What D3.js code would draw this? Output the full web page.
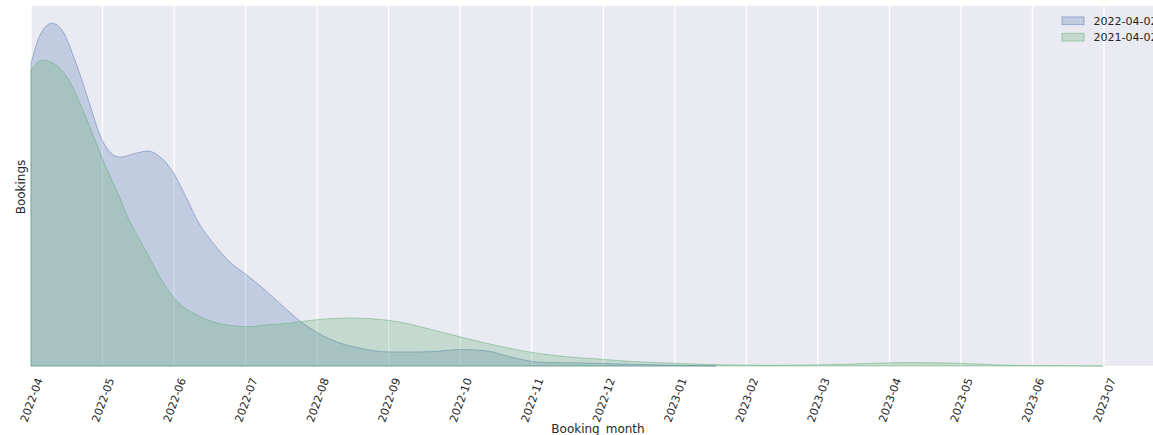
<!DOCTYPE html>
<html>
<head>
<meta charset="utf-8">
<script src="https://cdn.jsdelivr.net/npm/d3@7"></script>
<style>
  html, body { margin: 0; padding: 0; background: #ffffff; overflow: hidden; }
  svg { display: block; font-family: "DejaVu Sans", sans-serif; }
</style>
</head>
<body>
<svg id="chart" width="1153" height="435"></svg>
<script>
// ---- data ----
const monthLabels = ["2022-04","2022-05","2022-06","2022-07","2022-08","2022-09","2022-10","2022-11",
                     "2022-12","2023-01","2023-02","2023-03","2023-04","2023-05","2023-06","2023-07"];
const seriesNames = ["2022-04-02", "2021-04-02"];

// month offset since 2022-04 (x) and relative booking density (y)
const months2022 = [0, 0.126, 0.294, 0.433, 0.615, 0.825, 0.965, 1.104, 1.244, 1.454, 1.636, 1.803,
  1.985, 2.153, 2.363, 2.544, 2.782, 3.020, 3.271, 3.551, 3.761, 4.040, 4.320, 4.599, 5.019,
  5.438, 5.620, 5.997, 6.375, 6.696, 7.116, 7.675, 8.234, 8.793, 9.353, 9.576];
const bookings2022 = [88.3, 96.5, 100, 98.0, 89.2, 76.1, 67.3, 62.4, 60.9, 62.0, 62.7, 61.0,
  56.6, 49.9, 41.1, 35.9, 30.3, 26.5, 22.2, 16.9, 13.1, 9.3, 6.7, 5.2, 4.1,
  4.1, 4.2, 4.8, 4.4, 2.7, 1.1, 0.9, 0.6, 0.3, 0.1, 0];

const months2021 = [0, 0.168, 0.336, 0.503, 0.727, 0.895, 1.034, 1.202, 1.384, 1.524, 1.664, 1.803,
  1.915, 2.027, 2.153, 2.293, 2.474, 2.670, 2.852, 3.062, 3.299, 3.621, 3.900, 4.180, 4.459,
  4.739, 5.158, 5.620, 5.997, 6.375, 7.018, 7.493, 7.954, 8.416, 8.891, 9.353, 9.814,
  10.331, 10.890, 11.379, 11.799, 12.288, 12.777, 13.197, 13.686, 14.245, 14.986];
const bookings2021 = [86.3, 89.2, 88.0, 84.3, 74.6, 65.9, 58.6, 51.0, 42.0, 36.7, 31.2, 25.9,
  22.2, 19.2, 16.9, 15.2, 13.4, 12.2, 11.7, 11.5, 12.0, 12.5, 13.3, 13.8, 14.0,
  13.8, 12.8, 10.5, 8.5, 6.6, 3.9, 2.7, 2.0, 1.3, 0.9, 0.5, 0.3,
  0.2, 0.3, 0.5, 0.8, 1.0, 0.9, 0.6, 0.2, 0.1, 0];

const colors = ["#4c72b0", "#55a868"];

// ---- layout ----
const svg = d3.select("#chart");
const plotLeft = 31, plotRight = 1165, plotTop = 6, plotBottom = 366;
const x = d3.scaleLinear().domain([0, 15]).range([31, 1104]);
const y = d3.scaleLinear().domain([0, 105]).range([plotBottom, plotTop]);

// background
svg.append("rect").attr("x", plotLeft).attr("y", plotTop)
  .attr("width", plotRight - plotLeft).attr("height", plotBottom - plotTop).attr("fill", "#eaeaf2");

// vertical grid
svg.append("g").selectAll("line").data(d3.range(monthLabels.length)).join("line")
  .attr("x1", d => x(d)).attr("x2", d => x(d))
  .attr("y1", plotTop).attr("y2", plotBottom)
  .attr("stroke", "#ffffff").attr("stroke-width", 1.3);

// areas
const series = [
  { xs: months2022, ys: bookings2022, color: colors[0] },
  { xs: months2021, ys: bookings2021, color: colors[1] }
];
const area = d3.area()
  .x(d => x(d[0])).y0(y(0)).y1(d => y(d[1]))
  .curve(d3.curveMonotoneX);
series.forEach(s => {
  const pts = s.xs.map((m, i) => [m, s.ys[i]]);
  svg.append("path").datum(pts)
    .attr("d", area)
    .attr("fill", s.color).attr("fill-opacity", 0.25)
    .attr("stroke", s.color).attr("stroke-opacity", 0.45).attr("stroke-width", 1);
});

// x axis
const xAxis = d3.axisBottom(x)
  .tickValues(d3.range(monthLabels.length))
  .tickFormat(i => monthLabels[i])
  .tickSize(0);
const gx = svg.append("g").attr("transform", `translate(0,${plotBottom})`).call(xAxis);
gx.select(".domain").remove();
gx.selectAll("text")
  .attr("fill", "#262626")
  .style("font-size", "11px")
  .style("font-family", "DejaVu Sans, sans-serif")
  .attr("text-anchor", "middle")
  .attr("y", 0).attr("dy", "0.35em")
  .attr("transform", "translate(0,34) rotate(-70)");

// axis labels
svg.append("text").attr("x", 598).attr("y", 432.5)
  .attr("text-anchor", "middle").attr("fill", "#262626")
  .style("font-size", "12px").text("Booking_month");
svg.append("text")
  .attr("transform", "translate(25,187) rotate(-90)")
  .attr("text-anchor", "middle").attr("fill", "#262626")
  .style("font-size", "12px").text("Bookings");

// legend
const lg = svg.append("g").attr("transform", "translate(1062,0)");
seriesNames.forEach((name, i) => {
  const cy = 20.8 + i * 16.4;
  lg.append("rect").attr("x", 0).attr("y", cy - 3.9).attr("width", 22).attr("height", 7.7)
    .attr("fill", colors[i]).attr("fill-opacity", 0.25)
    .attr("stroke", colors[i]).attr("stroke-opacity", 0.45).attr("stroke-width", 1);
  lg.append("text").attr("x", 31.5).attr("y", cy).attr("dy", "0.36em")
    .attr("fill", "#262626").style("font-size", "11px").text(name);
});
</script>
</body>
</html>
